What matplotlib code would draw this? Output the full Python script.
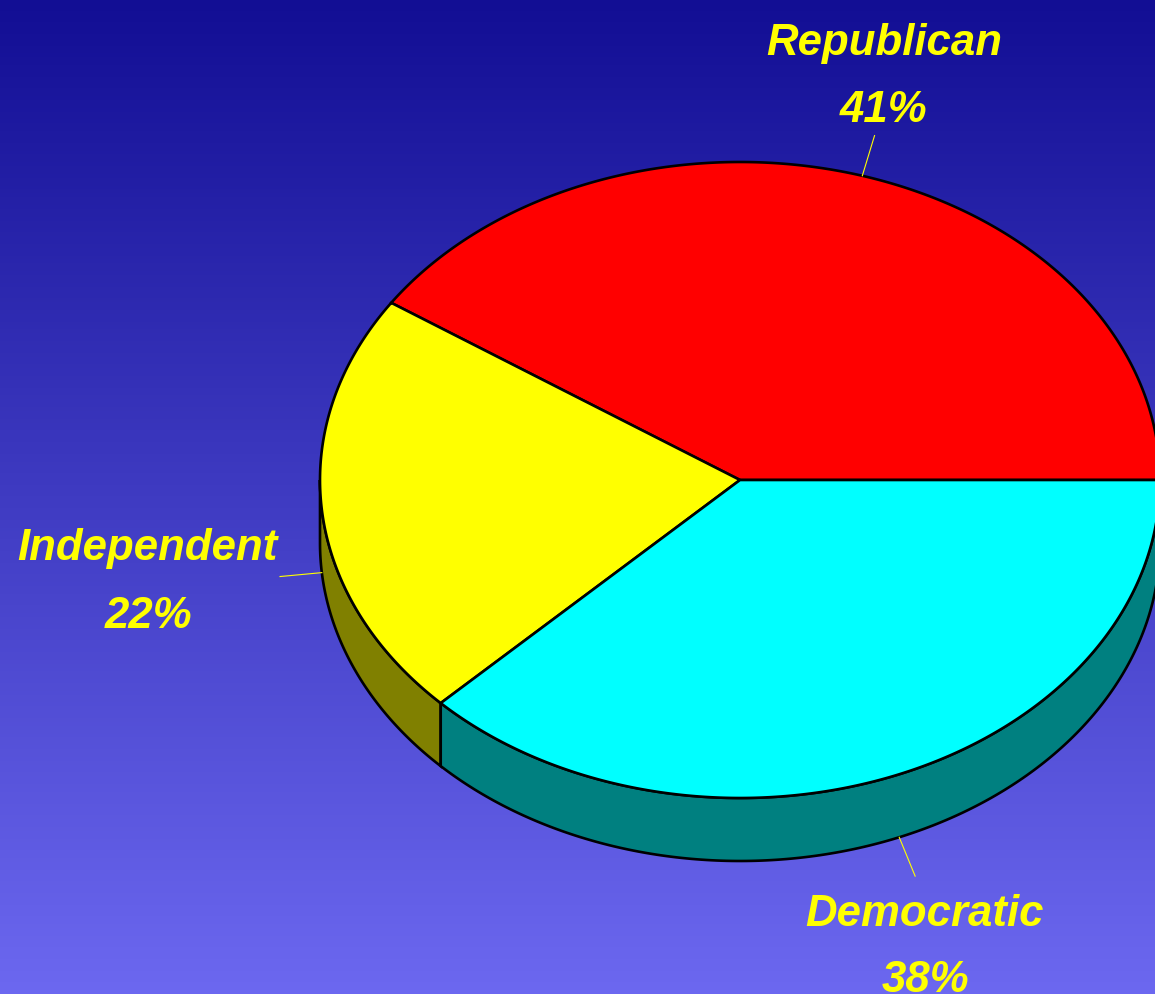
import matplotlib.pyplot as plt
from matplotlib.patches import Polygon
import numpy as np

parties = ["Republican", "Independent", "Democratic"]
shares = [41, 22, 38]
top_colors = ["#FF0000", "#FFFF00", "#00FFFF"]
side_colors = ["#800000", "#808000", "#008080"]

# layout (pixels), label positions are text baselines
W, H = 1155, 995
cx, cy = 740, 481
rx, ry = 420, 318
depth = 63
name_pos = [(884, 55), (147, 560), (924, 926)]
pct_pos = [(884, 122), (148, 628), (925, 992)]

fig = plt.figure(figsize=(W / 100, H / 100), dpi=100)
ax = fig.add_axes([0, 0, 1, 1])
ax.set_xlim(0, W)
ax.set_ylim(H, 0)
ax.axis("off")

# background gradient
top = np.array([18, 14, 148]) / 255
bot = np.array([108, 104, 240]) / 255
g = np.linspace(0, 1, 256)[:, None]
grad = (top[None, :] * (1 - g) + bot[None, :] * g)[:, None, :]
ax.imshow(grad, extent=(0, W, H, 0), aspect="auto", zorder=0)


def ell(t, dy=0):
    return cx + rx * np.cos(t), cy - ry * np.sin(t) + dy


frac = np.array(shares, dtype=float) / sum(shares)
bounds = np.concatenate([[0], np.cumsum(frac)]) * 2 * np.pi

# side walls (front half only)
for i in range(len(parties)):
    t1, t2 = max(bounds[i], np.pi), min(bounds[i + 1], 2 * np.pi)
    if t2 <= t1:
        continue
    t = np.linspace(t1, t2, 200)
    xs, ys = ell(t)
    xb, yb = ell(t[::-1], depth)
    pts = np.column_stack([np.concatenate([xs, xb]), np.concatenate([ys, yb])])
    ax.add_patch(Polygon(pts, closed=True, fc=side_colors[i], ec="black",
                         lw=1.9, zorder=2))

# top faces
for i in range(len(parties)):
    t = np.linspace(bounds[i], bounds[i + 1], 300)
    xs, ys = ell(t)
    pts = np.column_stack([np.concatenate([[cx], xs]), np.concatenate([[cy], ys])])
    ax.add_patch(Polygon(pts, closed=True, fc=top_colors[i], ec="black",
                         lw=1.9, zorder=3, joinstyle="miter"))

# leader lines and labels
font = dict(color="#FFFF00", fontsize=31.5, fontweight="bold", fontstyle="italic",
            family=["Liberation Sans Narrow", "Liberation Sans", "DejaVu Sans"],
            ha="center", va="baseline", zorder=5)
for i, name in enumerate(parties):
    m = (bounds[i] + bounds[i + 1]) / 2
    dy = depth if np.sin(m) < 0 else 0
    x0, y0 = ell(m, dy)
    ux, uy = np.cos(m), -np.sin(m)
    ax.plot([x0, x0 + 42 * ux], [y0, y0 + 42 * uy], color="#FFFF00", lw=0.8, zorder=4)
    ax.text(*name_pos[i], name, **font)
    ax.text(*pct_pos[i], f"{shares[i]}%", **font)

fig.savefig("out.png", dpi=100)
